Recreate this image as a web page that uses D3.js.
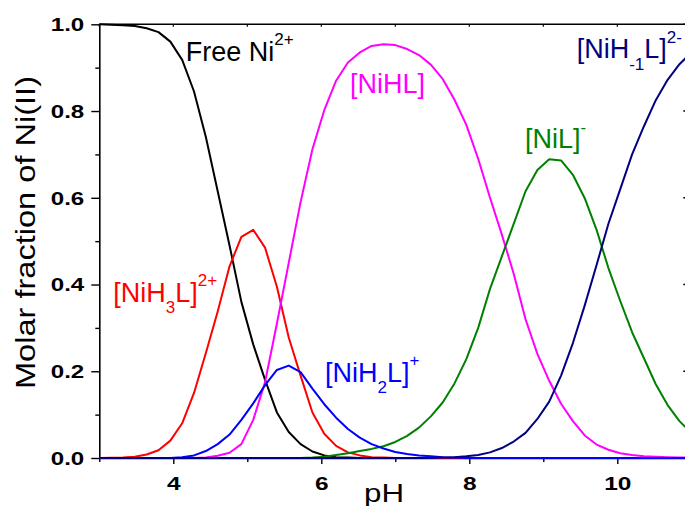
<!DOCTYPE html>
<html>
<head>
<meta charset="utf-8">
<script src="https://cdn.jsdelivr.net/npm/d3@7"></script>
<style>
  body { margin: 0; background: #fff; }
  svg { display: block; font-family: "Liberation Sans", Arial, sans-serif; }
</style>
</head>
<body>
<div id="chart"></div>
<script>
// pH grid (step 0.16)
const pH = [3.00,3.16,3.32,3.48,3.64,3.80,3.96,4.12,4.28,4.44,4.60,4.76,4.92,5.08,5.24,5.40,5.56,5.72,5.88,6.04,
  6.20,6.36,6.52,6.68,6.84,7.00,7.16,7.32,7.48,7.64,7.80,7.96,8.12,8.28,8.44,8.60,8.76,8.92,9.08,9.24,
  9.40,9.56,9.72,9.88,10.04,10.20,10.36,10.52,10.68,10.84,11.00];

// molar fractions
const freeNi = [1.000,0.999,0.998,0.996,0.991,0.982,0.960,0.918,0.845,0.740,0.615,0.490,0.360,0.262,0.180,0.105,0.060,0.032,0.015,0.006,
  0.002,0.001,0,0,0,0,0,0,0,0,0,0,0,0,0,0,0,0,0,0,
  0,0,0,0,0,0,0,0,0,0,0];
const niH3L = [0,0.0005,0.001,0.003,0.008,0.018,0.040,0.080,0.150,0.242,0.338,0.442,0.510,0.526,0.485,0.395,0.278,0.190,0.105,0.056,
  0.028,0.013,0.006,0.002,0.001,0,0,0,0,0,0,0,0,0,0,0,0,0,0,0,
  0,0,0,0,0,0,0,0,0,0,0];
const niH2L = [0,0,0,0,0,0,0,0.002,0.006,0.016,0.032,0.054,0.088,0.126,0.168,0.203,0.213,0.198,0.160,0.124,
  0.093,0.067,0.047,0.032,0.022,0.014,0.009,0.006,0.004,0.002,0.001,0,0,0,0,0,0,0,0,0,
  0,0,0,0,0,0,0,0,0,0,0];
const niHL = [0,0,0,0,0,0,0,0,0,0.001,0.005,0.012,0.032,0.088,0.175,0.310,0.450,0.590,0.712,0.802,
  0.870,0.912,0.935,0.950,0.954,0.952,0.943,0.929,0.907,0.874,0.826,0.768,0.690,0.600,0.515,0.425,0.320,0.240,0.178,0.125,
  0.085,0.052,0.031,0.019,0.011,0.007,0.004,0.003,0.002,0.001,0.001];
const niL = [0,0,0,0,0,0,0,0,0,0,0,0,0,0,0,0,0,0,0.001,0.003,
  0.007,0.011,0.016,0.021,0.027,0.037,0.051,0.070,0.096,0.128,0.172,0.228,0.300,0.390,0.465,0.540,0.615,0.664,0.689,0.686,
  0.653,0.599,0.526,0.438,0.362,0.290,0.230,0.170,0.122,0.085,0.058];
const niHm1L = [0,0,0,0,0,0,0,0,0,0,0,0,0,0,0,0,0,0,0,0,
  0,0,0,0,0,0,0,0,0,0.001,0.002,0.004,0.007,0.013,0.023,0.038,0.058,0.090,0.130,0.190,
  0.265,0.352,0.445,0.540,0.620,0.700,0.765,0.825,0.872,0.908,0.935];

const xMajor = [4, 6, 8, 10];
const xMinor = [3, 5, 7, 9, 11];
const yMajor = [0, 0.2, 0.4, 0.6, 0.8, 1.0];
const yMinor = [0.1, 0.3, 0.5, 0.7, 0.9];

const width = 685, height = 506;
const x = d3.scaleLinear().domain([3, 11]).range([99.3, 691.3]);
const y = d3.scaleLinear().domain([0, 1]).range([458, 24.3]);

const svg = d3.select("#chart").append("svg")
  .attr("width", width)
  .attr("height", height);

// frame: top and right lines
svg.append("line").attr("x1", x(3)).attr("x2", x(11)).attr("y1", y(1)).attr("y2", y(1))
  .attr("stroke", "#000").attr("stroke-width", 1.6);
svg.append("line").attr("x1", x(11)).attr("x2", x(11)).attr("y1", y(0)).attr("y2", y(1))
  .attr("stroke", "#000").attr("stroke-width", 1.6);

// top ticks (tiny, inward)
svg.append("g").selectAll("line").data(xMajor.concat(xMinor)).join("line")
  .attr("x1", d => x(d)).attr("x2", d => x(d))
  .attr("y1", y(1)).attr("y2", y(1) + 2.5)
  .attr("stroke", "#000").attr("stroke-width", 1.2);

// right ticks (inward, major only)
svg.append("g").selectAll("line").data(yMajor).join("line")
  .attr("x1", x(11)).attr("x2", x(11) - 8)
  .attr("y1", d => y(d)).attr("y2", d => y(d))
  .attr("stroke", "#000").attr("stroke-width", 1.4);

// bottom axis
const gx = svg.append("g").attr("transform", `translate(0,${y(0)})`);
gx.call(d3.axisBottom(x).tickValues(xMajor).tickSize(6).tickSizeOuter(0).tickFormat(d3.format("d")));
gx.append("g").call(d3.axisBottom(x).tickValues(xMinor).tickSize(4).tickSizeOuter(0).tickFormat(""))
  .select(".domain").remove();

// left axis
const gy = svg.append("g").attr("transform", `translate(${x(3)},0)`);
gy.call(d3.axisLeft(y).tickValues(yMajor).tickSize(8).tickSizeOuter(0).tickFormat(d3.format(".1f")));
gy.append("g").call(d3.axisLeft(y).tickValues(yMinor).tickSize(4).tickSizeOuter(0).tickFormat(""))
  .select(".domain").remove();

svg.selectAll(".domain").attr("stroke", "#000").attr("stroke-width", 1.6);
svg.selectAll(".tick line").attr("stroke", "#000").attr("stroke-width", 1.4);

// tick labels: bold, wide
gx.selectAll(".tick text")
  .attr("y", 0).attr("dy", 0)
  .attr("transform", "translate(0,32) scale(1.4,1)")
  .attr("font-size", 17.5).attr("font-weight", "bold")
  .attr("font-family", "Liberation Sans, Arial, sans-serif")
  .attr("fill", "#000");
gy.selectAll(".tick text")
  .attr("x", 0).attr("dy", "0.36em")
  .attr("transform", "translate(-15,0) scale(1.38,1)")
  .attr("font-size", 17.5).attr("font-weight", "bold")
  .attr("font-family", "Liberation Sans, Arial, sans-serif")
  .attr("fill", "#000");

// axis titles
svg.append("text")
  .attr("x", 364).attr("y", 502)
  .attr("font-size", 25.5)
  .attr("textLength", 40).attr("lengthAdjust", "spacingAndGlyphs")
  .text("pH");

svg.append("text")
  .attr("transform", "translate(35,232.5) rotate(-90)")
  .attr("text-anchor", "middle")
  .attr("font-size", 28)
  .attr("textLength", 313).attr("lengthAdjust", "spacingAndGlyphs")
  .text("Molar fraction of Ni(II)");

// curves
const series = [
  { values: freeNi, color: "#000000" },
  { values: niH3L, color: "#ff0000" },
  { values: niHL, color: "#ff00ff" },
  { values: niL, color: "#008000" },
  { values: niH2L, color: "#0000ff" },
  { values: niHm1L, color: "#000080" }
];

const line = d3.line()
  .x((d, i) => x(pH[i]))
  .y(d => y(d));

svg.append("g").selectAll("path").data(series).join("path")
  .attr("d", d => line(d.values))
  .attr("fill", "none")
  .attr("stroke", d => d.color)
  .attr("stroke-width", 2)
  .attr("stroke-linejoin", "round");

// species labels with sub/superscripts
function label(px, py, color, parts) {
  const t = svg.append("text").attr("x", px).attr("y", py).attr("fill", color).attr("font-size", 27);
  let shift = 0;
  parts.forEach(p => {
    const target = p.sub ? 11.5 : p.sup ? -15.5 : 0;
    t.append("tspan")
      .attr("dy", target - shift)
      .attr("font-size", p.sub || p.sup ? 17 : 27)
      .text(p.t);
    shift = target;
  });
}

label(185.7, 60.7, "#000000", [{ t: "Free Ni" }, { t: "2+", sup: true }]);
label(350, 92.7, "#ff00ff", [{ t: "[NiHL]" }]);
label(113.3, 301.7, "#ff0000", [{ t: "[NiH" }, { t: "3", sub: true }, { t: "L]" }, { t: "2+", sup: true }]);
label(325, 381.7, "#0000ff", [{ t: "[NiH" }, { t: "2", sub: true }, { t: "L]" }, { t: "+", sup: true }]);
label(525, 148.3, "#008000", [{ t: "[NiL]" }, { t: "-", sup: true }]);
label(576.7, 58.3, "#000080", [{ t: "[NiH" }, { t: "-1", sub: true }, { t: "L]" }, { t: "2-", sup: true }]);
</script>
</body>
</html>
